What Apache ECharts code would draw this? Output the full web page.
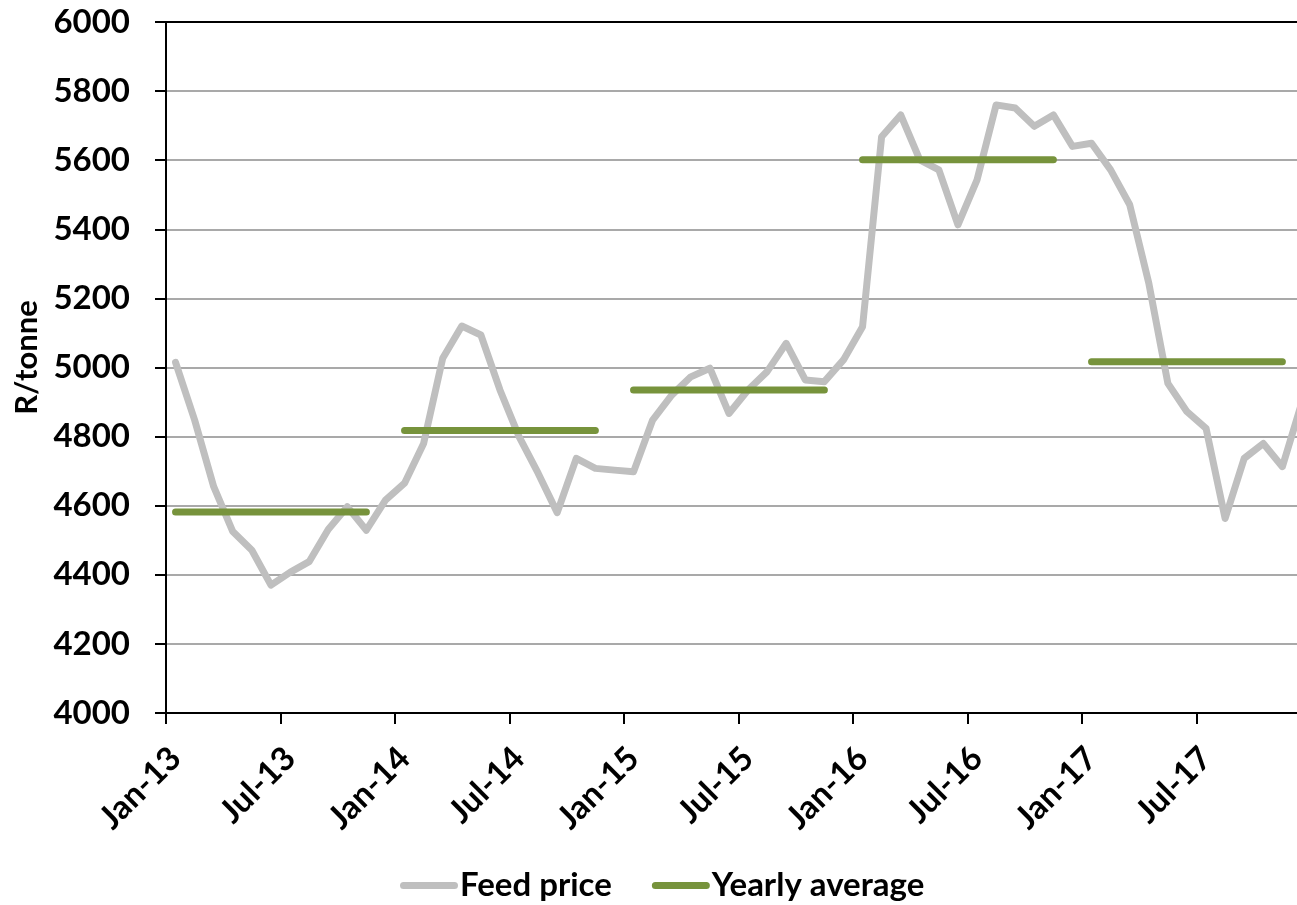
<!DOCTYPE html>
<html>
<head>
<meta charset="utf-8">
<script src="https://cdn.jsdelivr.net/npm/echarts@6/dist/echarts.min.js"></script>
<style>
html,body{margin:0;padding:0;background:#ffffff;overflow:hidden;}
#chart{width:1311px;height:905px;}
</style>
</head>
<body>
<div id="chart"></div>
<script>
// Month categories (Jan-13 .. Dec-17)
const months = [
  'Jan-13','Feb-13','Mar-13','Apr-13','May-13','Jun-13','Jul-13','Aug-13','Sep-13','Oct-13','Nov-13','Dec-13',
  'Jan-14','Feb-14','Mar-14','Apr-14','May-14','Jun-14','Jul-14','Aug-14','Sep-14','Oct-14','Nov-14','Dec-14',
  'Jan-15','Feb-15','Mar-15','Apr-15','May-15','Jun-15','Jul-15','Aug-15','Sep-15','Oct-15','Nov-15','Dec-15',
  'Jan-16','Feb-16','Mar-16','Apr-16','May-16','Jun-16','Jul-16','Aug-16','Sep-16','Oct-16','Nov-16','Dec-16',
  'Jan-17','Feb-17','Mar-17','Apr-17','May-17','Jun-17','Jul-17','Aug-17','Sep-17','Oct-17','Nov-17','Dec-17'
];

// Feed price, R/tonne
const feedPrice = [
  5015, 4848, 4655, 4525, 4471, 4370, 4407, 4438, 4531, 4597, 4529, 4616,
  4665, 4780, 5027, 5120, 5094, 4935, 4800, 4694, 4580, 4737, 4708, 4703,
  4698, 4848, 4920, 4973, 4998, 4867, 4935, 4988, 5070, 4964, 4959, 5022,
  5118, 5668, 5731, 5601, 5572, 5413, 5543, 5760, 5751, 5698, 5731, 5640,
  5649, 5572, 5471, 5244, 4954, 4872, 4824, 4563, 4737, 4780, 4713, 4895
];

// Yearly average (drawn Jan..Nov of each year)
const avg2013 = 4582, avg2014 = 4818, avg2015 = 4935, avg2016 = 5601, avg2017 = 5017;
const yearlyAverage = [
  avg2013,avg2013,avg2013,avg2013,avg2013,avg2013,avg2013,avg2013,avg2013,avg2013,avg2013,null,
  avg2014,avg2014,avg2014,avg2014,avg2014,avg2014,avg2014,avg2014,avg2014,avg2014,avg2014,null,
  avg2015,avg2015,avg2015,avg2015,avg2015,avg2015,avg2015,avg2015,avg2015,avg2015,avg2015,null,
  avg2016,avg2016,avg2016,avg2016,avg2016,avg2016,avg2016,avg2016,avg2016,avg2016,avg2016,null,
  avg2017,avg2017,avg2017,avg2017,avg2017,avg2017,avg2017,avg2017,avg2017,avg2017,avg2017,null
];

const yMin = 4000, yMax = 6000, yStep = 200;

const FONT = 'Lato';
const capsule = 'path://M3.5,0 L54.5,0 A3.5,3.5 0 0 1 54.5,7 L3.5,7 A3.5,3.5 0 0 1 3.5,0 Z';
const chart = echarts.init(document.getElementById('chart'), null, {renderer: 'canvas'});

chart.setOption({
  animation: false,
  backgroundColor: '#ffffff',
  grid: {left: 166, top: 22, right: 0, bottom: 192, containLabel: false},
  legend: {
    left: 395,
    top: 864,
    itemWidth: 58,
    itemHeight: 7,
    itemGap: 40,
    textStyle: {fontFamily: FONT, fontWeight: 'bold', fontSize: 33, color: '#000', padding: [0, 0, 0, -3]},
    data: [
      {name: 'Feed price', icon: capsule, itemStyle: {color: '#bfbfbf'}},
      {name: 'Yearly average', icon: capsule, itemStyle: {color: '#77933c'}}
    ]
  },
  xAxis: [
    {
      type: 'category',
      data: months,
      boundaryGap: true,
      axisLine: {show: true, lineStyle: {color: '#000', width: 2}},
      axisTick: {show: true, interval: 5, alignWithLabel: false, length: 11, lineStyle: {color: '#000', width: 2}},
      axisLabel: {
        interval: 5, rotate: 45, margin: 40,
        fontFamily: FONT, fontWeight: 'bold', fontSize: 33, color: '#000'
      },
      splitLine: {show: false}
    },
    {
      type: 'category',
      data: months,
      position: 'top',
      boundaryGap: true,
      axisLine: {show: true, lineStyle: {color: '#000', width: 2}},
      axisTick: {show: false},
      axisLabel: {show: false},
      splitLine: {show: false}
    }
  ],
  yAxis: {
    type: 'value',
    min: yMin, max: yMax, interval: yStep,
    name: 'R/tonne',
    nameLocation: 'middle',
    nameGap: 124,
    nameTextStyle: {fontFamily: FONT, fontWeight: 'bold', fontSize: 31, color: '#000', padding: [0, 0, 0, 20]},
    axisLine: {show: true, lineStyle: {color: '#000', width: 2}},
    axisTick: {show: true, length: 11, lineStyle: {color: '#000', width: 2}},
    axisLabel: {
      margin: 36, fontFamily: FONT, fontWeight: 'bold', fontSize: 33, color: '#000',
      formatter: function (v) { return String(v); }
    },
    splitLine: {show: true, lineStyle: {color: '#8c8c8c', width: 1.5}}
  },
  series: [
    {
      name: 'Feed price',
      type: 'line',
      data: feedPrice,
      symbol: 'none',
      color: '#bfbfbf',
      lineStyle: {color: '#bfbfbf', width: 7, cap: 'round', join: 'round'},
      z: 2
    },
    {
      name: 'Yearly average',
      type: 'line',
      data: yearlyAverage,
      symbol: 'none',
      connectNulls: false,
      color: '#77933c',
      lineStyle: {color: '#77933c', width: 7, cap: 'round', join: 'round'},
      z: 3
    }
  ]
});
</script>
</body>
</html>
